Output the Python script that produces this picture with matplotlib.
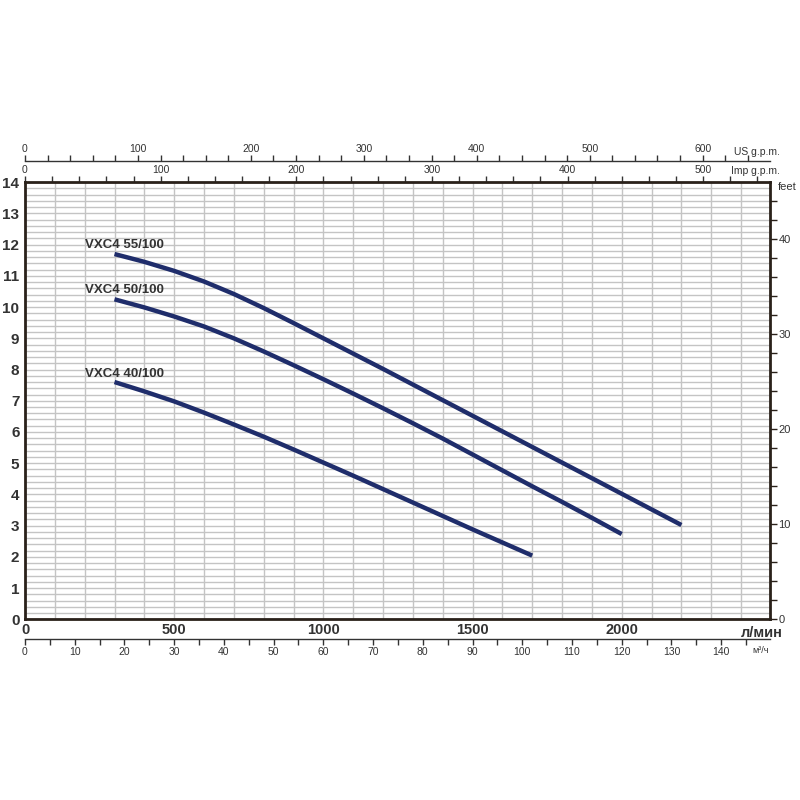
import matplotlib
matplotlib.use("Agg")
import matplotlib.pyplot as plt
from matplotlib.ticker import MultipleLocator, FixedLocator

plt.rcParams['font.family'] = ['Liberation Sans', 'DejaVu Sans']

# pump curves: flow (l/min) vs head (m)
flow_55 = [300, 400, 500, 600, 700, 800, 900, 1000, 1100, 1200, 1300, 1400, 1500, 1600, 1700, 1800, 1900, 2000, 2100, 2200]
head_55 = [11.70, 11.45, 11.16, 10.82, 10.42, 9.97, 9.49, 9.00, 8.51, 8.02, 7.52, 7.02, 6.52, 6.02, 5.52, 5.02, 4.52, 4.02, 3.52, 3.02]

flow_50 = [300, 400, 500, 600, 700, 800, 900, 1000, 1100, 1200, 1300, 1400, 1500, 1600, 1700, 1800, 1900, 2000]
head_50 = [10.25, 9.99, 9.70, 9.38, 9.00, 8.58, 8.14, 7.69, 7.23, 6.76, 6.28, 5.79, 5.28, 4.77, 4.26, 3.76, 3.25, 2.73]

flow_40 = [300, 400, 500, 600, 700, 800, 900, 1000, 1100, 1200, 1300, 1400, 1500, 1600, 1700]
head_40 = [7.60, 7.30, 6.98, 6.62, 6.24, 5.85, 5.44, 5.02, 4.60, 4.17, 3.74, 3.31, 2.88, 2.46, 2.04]

names = ["VXC4 55/100", "VXC4 50/100", "VXC4 40/100"]
label_heads = [11.99, 10.55, 7.86]

lpm_ticks = [0, 500, 1000, 1500, 2000]
head_ticks = list(range(0, 15))
imp_ticks = [0, 100, 200, 300, 400, 500]
us_ticks = [0, 100, 200, 300, 400, 500, 600]
m3h_ticks = list(range(0, 150, 10))
feet_ticks = [0, 10, 20, 30, 40]

navy = '#1f2d6b'
dark = '#2a211a'
grey = '#c4c4c4'
txt = '#333333'

fig = plt.figure(figsize=(8, 8), dpi=100)
ax = fig.add_axes([0.03125, 0.2259, 0.93125, 0.5463])

ax.set_xlim(0, 2497)
ax.set_ylim(0, 14)

# grid: 100 l/min and 0.2 m
ax.xaxis.set_minor_locator(MultipleLocator(100))
ax.yaxis.set_minor_locator(MultipleLocator(0.2))
ax.grid(which='both', color=grey, linewidth=1.0)
ax.set_axisbelow(True)

for f, h in [(flow_55, head_55), (flow_50, head_50), (flow_40, head_40)]:
    ax.plot(f, h, color=navy, linewidth=3.2, solid_capstyle='butt')

for n, y in zip(names, label_heads):
    ax.text(200, y, n, fontsize=9.5, fontweight='bold', color=txt, ha='left', va='center')

for s in ax.spines.values():
    s.set_color(dark)
    s.set_linewidth(2)

ax.set_xticks(lpm_ticks)
ax.set_yticks(head_ticks)
ax.tick_params(which='both', length=0)
ax.tick_params(axis='x', pad=3, labelsize=10.5, labelcolor=txt)
ax.tick_params(axis='y', pad=4, labelsize=11, labelcolor=txt)
for lab in ax.get_xticklabels() + ax.get_yticklabels():
    lab.set_fontweight('bold')
ax.text(1.0165, -0.031, "л/мин", transform=ax.transAxes, fontsize=10.5, fontweight='bold',
        color=txt, ha='right', va='center')

# Imp g.p.m. on the top spine
imp = ax.secondary_xaxis('top', functions=(lambda x: x / 4.54609, lambda x: x * 4.54609))
imp.xaxis.set_major_locator(FixedLocator(imp_ticks))
imp.xaxis.set_minor_locator(MultipleLocator(20))
imp.tick_params(which='both', direction='out', length=4, width=1, color=txt,
                labelsize=7.5, labelcolor=txt, pad=1)
for s in imp.spines.values():
    s.set_visible(False)
ax.text(1.0134, 1.025, "Imp g.p.m.", transform=ax.transAxes, fontsize=7.5, color=txt,
        ha='right', va='center')

# US g.p.m. line above
us = ax.secondary_xaxis(1.0487, functions=(lambda x: x / 3.78541, lambda x: x * 3.78541))
us.xaxis.set_major_locator(FixedLocator(us_ticks))
us.xaxis.set_minor_locator(MultipleLocator(20))
us.tick_params(which='both', direction='out', length=4, width=1, color=txt,
               labelsize=7.5, labelcolor=txt, pad=1)
us.spines['top'].set_visible(True)
us.spines['top'].set_color(txt)
us.spines['top'].set_linewidth(1)
ax.text(1.0134, 1.07, "US g.p.m.", transform=ax.transAxes, fontsize=7.5, color=txt,
        ha='right', va='center')

# m3/h line below
m3 = ax.secondary_xaxis(-0.045, functions=(lambda x: x * 0.06, lambda x: x / 0.06))
m3.xaxis.set_major_locator(FixedLocator(m3h_ticks))
m3.xaxis.set_minor_locator(MultipleLocator(5))
m3.tick_params(which='both', direction='out', length=4, width=1, color=txt,
               labelsize=7.5, labelcolor=txt, pad=2)
m3.spines['bottom'].set_visible(True)
m3.spines['bottom'].set_color(txt)
m3.spines['bottom'].set_linewidth(1)
ax.text(0.988, -0.072, "м³/ч", transform=ax.transAxes, fontsize=6.5, color=txt,
        ha='center', va='center')

# feet on the right
ft = ax.secondary_yaxis('right', functions=(lambda m: m / 0.3048, lambda f: f * 0.3048))
ft.yaxis.set_major_locator(FixedLocator(feet_ticks))
ft.yaxis.set_minor_locator(MultipleLocator(2))
ft.tick_params(which='both', direction='out', length=5, width=1, color=dark,
               labelsize=8, labelcolor=txt, pad=1)
for s in ft.spines.values():
    s.set_visible(False)
ax.text(1.011, 0.99, "feet", transform=ax.transAxes, fontsize=8, color=txt,
        ha='left', va='center')

fig.savefig("out.png", dpi=100, facecolor="white")
